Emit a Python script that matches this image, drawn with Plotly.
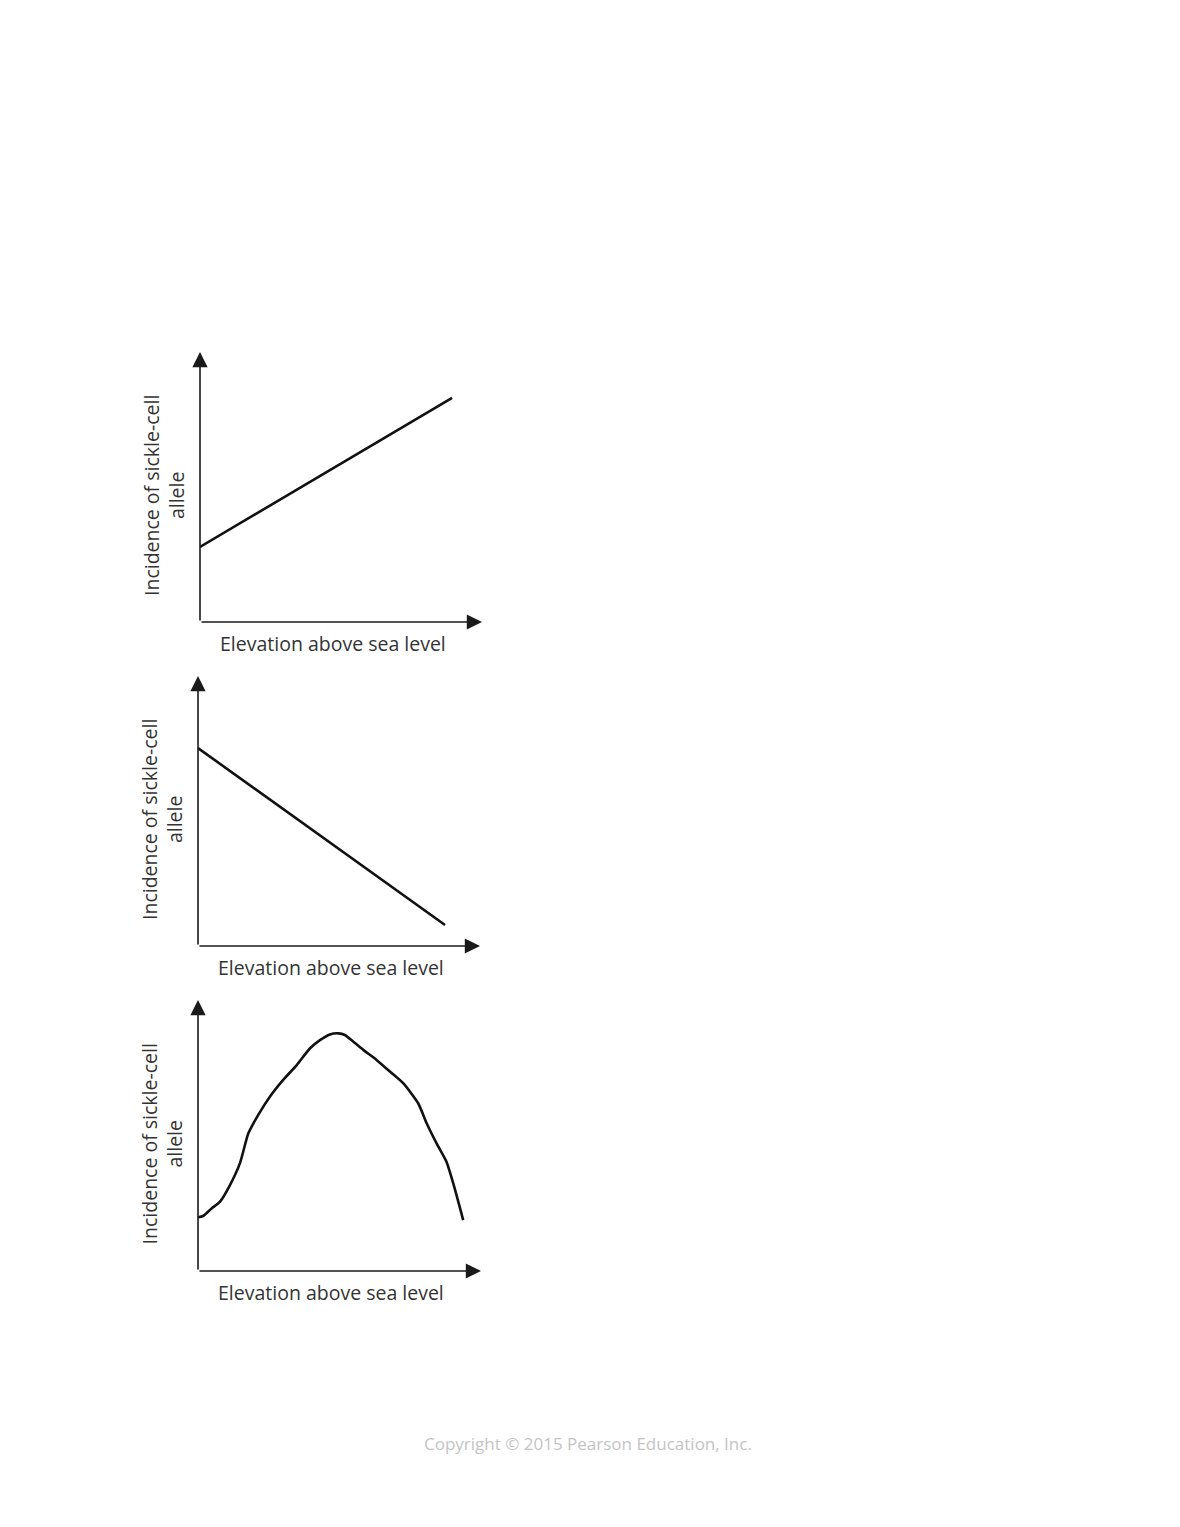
import plotly.graph_objects as go

# Three sketch graphs: incidence of sickle-cell allele vs elevation
# axis units are arbitrary (0 at origin, 10 at arrow tip)
rising_x = [0, 8.94]
rising_y = [2.78, 8.30]

falling_x = [0, 8.76]
falling_y = [7.33, 0.78]

hump_x = [0, 0.18, 0.48, 0.78, 1.13, 1.48, 1.78, 2.13, 2.54, 3.01, 3.49, 3.96,
          4.31, 4.66, 4.96, 5.19, 5.49, 5.84, 6.31, 6.78, 7.25, 7.78, 8.08,
          8.43, 8.78, 9.02, 9.37]
hump_y = [1.98, 2.03, 2.31, 2.56, 3.17, 3.97, 5.08, 5.76, 6.43, 7.05, 7.60, 8.22,
          8.52, 8.73, 8.77, 8.71, 8.46, 8.16, 7.79, 7.36, 6.93, 6.19, 5.45,
          4.71, 4.03, 3.23, 1.88]

x_label = "Elevation above sea level"
y_label = "Incidence of sickle-cell<br>allele"
footer = "Copyright © 2015 Pearson Education, Inc."

W, H = 1180, 1527
OFF = 8  # page body margin
# pixel boxes of each plot in the page: (left, right, top, bottom)
boxes = [(200, 482, 352, 622), (198, 480, 676, 946), (198, 481, 1000, 1271)]
series = [(rising_x, rising_y), (falling_x, falling_y), (hump_x, hump_y)]

font_family = "Open Sans, sans-serif"
text_color = "#333333"


def px(v):
    return (v - OFF) / W


def py(v):
    return 1 - (v - OFF) / H


fig = go.Figure()
annotations = []
layout_axes = {}

for i, ((l, r, t, b), (xs, ys)) in enumerate(zip(boxes, series), start=1):
    xa = "x" if i == 1 else f"x{i}"
    ya = "y" if i == 1 else f"y{i}"
    fig.add_trace(go.Scatter(
        x=xs, y=ys, mode="lines",
        line=dict(color="#111111", width=2.6, shape="spline", smoothing=0.6),
        xaxis=xa, yaxis=ya, showlegend=False, hoverinfo="skip",
    ))
    layout_axes[f"xaxis{'' if i == 1 else i}"] = dict(
        domain=[px(l), px(r)], range=[0, 10], visible=False, fixedrange=True,
        anchor=ya,
    )
    layout_axes[f"yaxis{'' if i == 1 else i}"] = dict(
        domain=[py(b), py(t)], range=[0, 10], visible=False, fixedrange=True,
        anchor=xa,
    )
    # axis lines with arrowheads
    for tip in [(10, 0), (0, 10)]:
        annotations.append(dict(
            x=tip[0], y=tip[1], ax=0, ay=0, xref=xa, yref=ya, axref=xa, ayref=ya,
            showarrow=True, arrowhead=2, arrowsize=1.9, arrowwidth=1.6,
            arrowcolor="#1a1a1a", text="",
        ))
    annotations.append(dict(
        text=x_label, xref=f"{xa} domain", yref=f"{ya} domain",
        x=0.47, y=0, xanchor="center", yanchor="top", yshift=-6,
        showarrow=False, font=dict(family=font_family, size=19.5, color=text_color),
    ))
    annotations.append(dict(
        text=y_label, xref=f"{xa} domain", yref=f"{ya} domain",
        x=-0.128, y=0.47, xanchor="center", yanchor="middle", textangle=-90,
        showarrow=False, font=dict(family=font_family, size=19.5, color=text_color),
    ))

annotations.append(dict(
    text=footer, xref="paper", yref="paper", x=px(588), y=py(1443),
    xanchor="center", yanchor="middle", showarrow=False,
    font=dict(family=font_family, size=17, color="#c4c4c4"),
))

fig.update_layout(
    width=W, height=H,
    margin=dict(l=0, r=0, t=0, b=0),
    plot_bgcolor="white", paper_bgcolor="white",
    annotations=annotations,
    **layout_axes,
)

fig.write_html("out.html")
